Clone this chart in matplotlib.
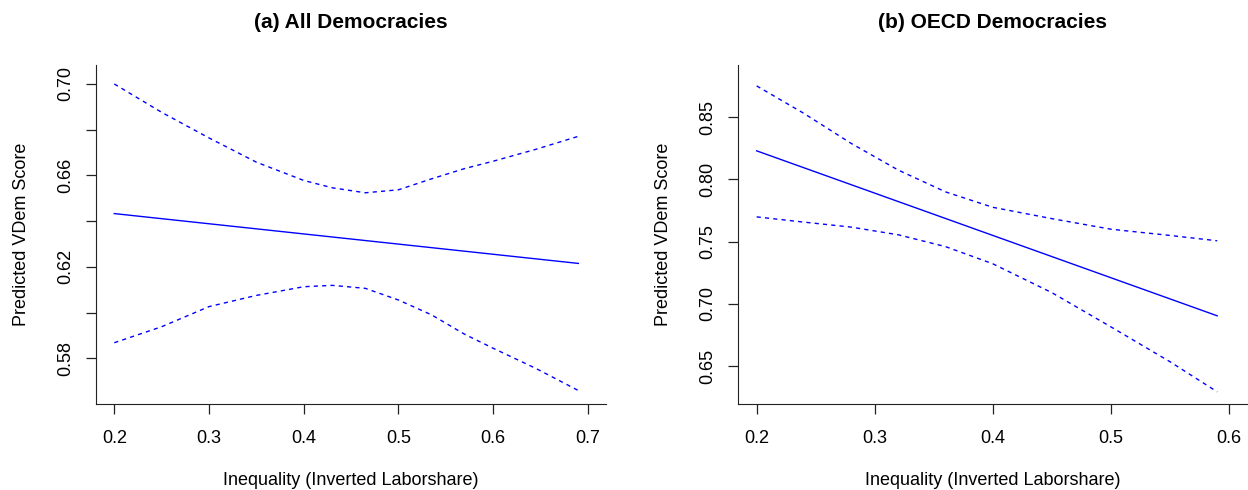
import matplotlib.pyplot as plt

plt.rcParams['font.family'] = ['Liberation Sans', 'DejaVu Sans']

# (a) All Democracies
x_all = [0.20, 0.25, 0.30, 0.35, 0.40, 0.43, 0.465, 0.50, 0.535, 0.57, 0.60, 0.645, 0.69]
upper_all = [0.7000, 0.6876, 0.6764, 0.6658, 0.6578, 0.6546, 0.6524, 0.6537, 0.6585, 0.6630, 0.6662, 0.6714, 0.6771]
lower_all = [0.5868, 0.5938, 0.6026, 0.6075, 0.6113, 0.6119, 0.6106, 0.6055, 0.5990, 0.5905, 0.5844, 0.5756, 0.5659]
fit_x_all = [0.20, 0.69]
fit_all = [0.6433, 0.6215]

# (b) OECD Democracies
x_oecd = [0.20, 0.24, 0.28, 0.32, 0.36, 0.40, 0.45, 0.50, 0.55, 0.59]
upper_oecd = [0.8752, 0.8531, 0.8290, 0.8075, 0.7900, 0.7776, 0.7685, 0.7600, 0.7550, 0.7507]
lower_oecd = [0.7699, 0.7657, 0.7617, 0.7555, 0.7460, 0.7322, 0.7090, 0.6815, 0.6535, 0.6293]
fit_x_oecd = [0.20, 0.59]
fit_oecd = [0.8230, 0.6904]

xticks_all = [0.2, 0.3, 0.4, 0.5, 0.6, 0.7]
yticks_all = [0.58, 0.60, 0.62, 0.64, 0.66, 0.68, 0.70]
ylabels_all = ['0.58', '', '0.62', '', '0.66', '', '0.70']
xticks_oecd = [0.2, 0.3, 0.4, 0.5, 0.6]
yticks_oecd = [0.65, 0.70, 0.75, 0.80, 0.85]
ylabels_oecd = ['0.65', '0.70', '0.75', '0.80', '0.85']

fig = plt.figure(figsize=(12.48, 4.9), dpi=100)
ax1 = fig.add_axes([96 / 1248, 86 / 490, 510 / 1248, 339 / 490])
ax2 = fig.add_axes([738 / 1248, 86 / 490, 510 / 1248, 339 / 490])


def style_panel(ax, title, xt, yt, ylab, xlim, ylim):
    ax.set_xlim(*xlim)
    ax.set_ylim(*ylim)
    ax.spines['top'].set_visible(False)
    ax.spines['right'].set_visible(False)
    ax.spines['left'].set_color('#222222')
    ax.spines['bottom'].set_color('#222222')
    ax.set_xticks(xt)
    ax.set_xticklabels([f'{v:.1f}' for v in xt])
    ax.set_yticks(yt)
    ax.set_yticklabels(ylab, rotation=90, va='center')
    ax.tick_params(axis='both', direction='out', length=7, width=0.9, labelsize=13, colors='#222222')
    ax.tick_params(axis='x', pad=12)
    ax.tick_params(axis='y', pad=9)
    for lab in ax.get_xticklabels() + ax.get_yticklabels():
        lab.set_color('black')
    ax.set_title(title, fontsize=15, fontweight='bold', pad=27)
    ax.set_xlabel('Inequality (Inverted Laborshare)', fontsize=13, labelpad=18)
    ax.set_ylabel('Predicted VDem Score', fontsize=13, labelpad=19)


ax1.plot(fit_x_all, fit_all, color='blue', lw=1.0)
ax1.plot(x_all, upper_all, color='blue', lw=1.0, linestyle=(0, (3, 3)))
ax1.plot(x_all, lower_all, color='blue', lw=1.0, linestyle=(0, (3, 3)))
style_panel(ax1, '(a) All Democracies', xticks_all, yticks_all, ylabels_all,
            (0.1807, 0.7192), (0.5600, 0.7083))

ax2.plot(fit_x_oecd, fit_oecd, color='blue', lw=1.0)
ax2.plot(x_oecd, upper_oecd, color='blue', lw=1.0, linestyle=(0, (3, 3)))
ax2.plot(x_oecd, lower_oecd, color='blue', lw=1.0, linestyle=(0, (3, 3)))
style_panel(ax2, '(b) OECD Democracies', xticks_oecd, yticks_oecd, ylabels_oecd,
            (0.1842, 0.6161), (0.6195, 0.8920))

plt.savefig('out.png', dpi=100)
